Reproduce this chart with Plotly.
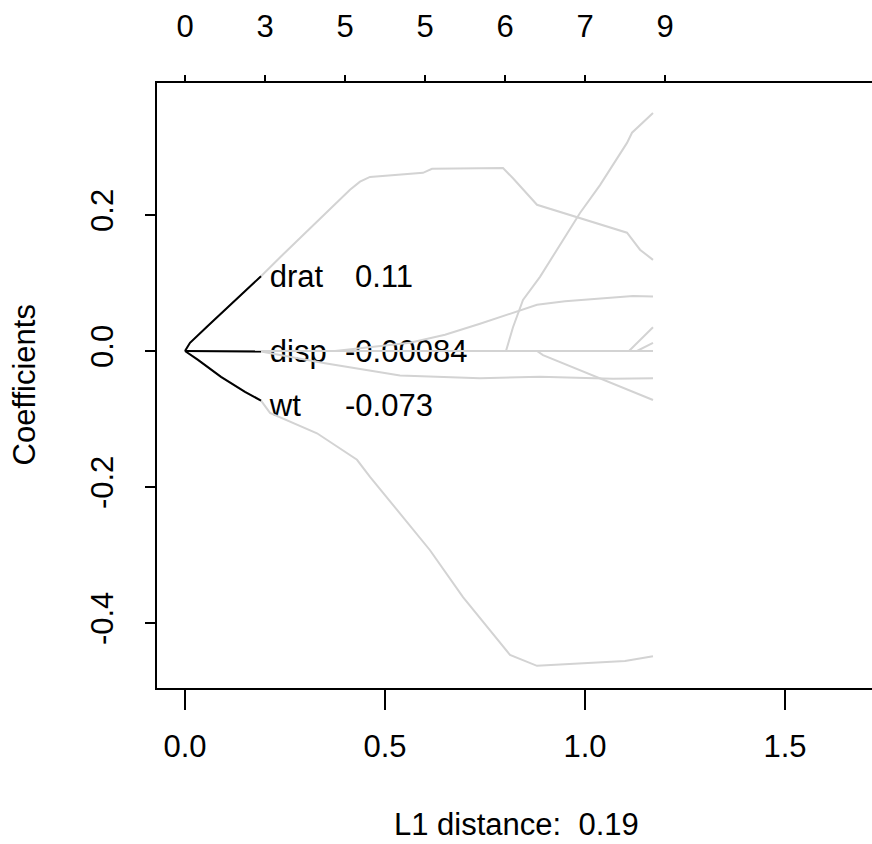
import plotly.graph_objects as go

# ---- coefficient paths (L1 norm of the coefficient vector vs. coefficient) ----
drat_l1 = [0.0, 0.0125, 0.0575, 0.1075, 0.19, 0.245, 0.33, 0.4125, 0.4375, 0.4625,
           0.595, 0.6175, 0.795, 0.82, 0.88, 1.105, 1.1375, 1.17]
drat_coef = [0.0, 0.012, 0.037, 0.064, 0.11, 0.142, 0.190, 0.237, 0.249, 0.256,
             0.262, 0.268, 0.269, 0.254, 0.215, 0.174, 0.149, 0.134]

disp_l1 = [0.0, 0.09, 0.19, 0.35, 0.5375, 0.7375, 0.8875, 1.07, 1.17]
disp_coef = [0.0, 0.0, -0.00084, -0.018, -0.036, -0.040, -0.038, -0.041, -0.040]

wt_l1 = [0.0, 0.0325, 0.09, 0.15, 0.19, 0.2125, 0.33, 0.43, 0.4625, 0.6125,
         0.695, 0.8125, 0.88, 1.1, 1.17]
wt_coef = [0.0, -0.013, -0.038, -0.060, -0.073, -0.091, -0.121, -0.160, -0.185,
           -0.293, -0.362, -0.447, -0.463, -0.456, -0.449]

steep_l1 = [0.0, 0.8025, 0.82, 0.845, 0.8875, 0.9875, 1.0375, 1.105, 1.1175, 1.17]
steep_coef = [0.0, 0.0, 0.035, 0.075, 0.109, 0.203, 0.244, 0.306, 0.321, 0.35]

rise_l1 = [0.0, 0.375, 0.5625, 0.65, 0.7375, 0.88, 0.95, 1.12, 1.17]
rise_coef = [0.0, 0.0, 0.012, 0.024, 0.040, 0.068, 0.073, 0.081, 0.080]

fall_l1 = [0.0, 0.88, 0.895, 1.0375, 1.17]
fall_coef = [0.0, 0.0, -0.006, -0.040, -0.072]

late1_l1 = [0.0, 1.11, 1.17]
late1_coef = [0.0, 0.0, 0.035]

late2_l1 = [0.0, 1.13, 1.17]
late2_coef = [0.0, 0.0, 0.012]

zero_l1 = [0.0, 1.17]
zero_coef = [0.0, 0.0]

# ---- highlighted variables at the chosen L1 distance ----
l1_cut = 0.19
hl_names = ["drat", "disp", "wt"]
hl_values = [0.11, -0.00084, -0.073]
hl_value_text = ["0.11", "-0.00084", "-0.073"]

# ---- axes ----
x_ticks = [0.0, 0.5, 1.0, 1.5]
x_tick_text = ["0.0", "0.5", "1.0", "1.5"]
y_ticks = [-0.4, -0.2, 0.0, 0.2]
y_tick_text = ["-0.4", "-0.2", "0.0", "0.2"]
df_ticks = [0.0, 0.2, 0.4, 0.6, 0.8, 1.0, 1.2]
df_counts = ["0", "3", "5", "5", "6", "7", "9"]

FONT = "Liberation Sans, Arial, sans-serif"
FS = 31
GRAY = "#D3D3D3"

all_paths = [
    (drat_l1, drat_coef), (disp_l1, disp_coef), (wt_l1, wt_coef),
    (steep_l1, steep_coef), (rise_l1, rise_coef), (fall_l1, fall_coef),
    (late1_l1, late1_coef), (late2_l1, late2_coef),
    (zero_l1, zero_coef), (zero_l1, zero_coef),
]
hl_paths = {"drat": (drat_l1, drat_coef), "disp": (disp_l1, disp_coef),
            "wt": (wt_l1, wt_coef)}

fig = go.Figure()

# labels sit underneath the gray paths; nudged slightly down from the values
label_y = [v - 0.004 - (0.007 if v < -0.01 else 0.0) for v in hl_values]
name_x = l1_cut + 0.022
fig.add_trace(go.Scatter(
    x=[name_x] * len(hl_names), y=label_y, text=hl_names, mode="text",
    textposition="middle right", textfont=dict(family=FONT, size=FS, color="black"),
    hoverinfo="skip", showlegend=False))
value_x = [l1_cut + 0.21 + (0.025 if v >= 0 else 0.0) for v in hl_values]
fig.add_trace(go.Scatter(
    x=value_x, y=label_y, text=hl_value_text, mode="text",
    textposition="middle right", textfont=dict(family=FONT, size=FS, color="black"),
    hoverinfo="skip", showlegend=False))

# every coefficient path in gray
for xs, ys in all_paths:
    fig.add_trace(go.Scatter(
        x=xs, y=ys, mode="lines", line=dict(color=GRAY, width=2),
        hoverinfo="skip", showlegend=False))

# highlighted paths up to the chosen L1 distance, in black
for name in hl_names:
    xs, ys = hl_paths[name]
    seg_x = [a for a in xs if a <= l1_cut]
    seg_y = [b for a, b in zip(xs, ys) if a <= l1_cut]
    fig.add_trace(go.Scatter(
        x=seg_x, y=seg_y, mode="lines", xaxis="x2",
        line=dict(color="black", width=2),
        hoverinfo="skip", showlegend=False))

x_range = [-0.07, 1.7175]
y_range = [-0.4956, 0.3941]

fig.update_layout(
    width=872, height=844,
    margin=dict(l=157, r=0, t=83, b=156),
    paper_bgcolor="white", plot_bgcolor="white",
    font=dict(family=FONT, size=FS, color="black"),
    xaxis=dict(range=x_range, tickvals=x_ticks, ticktext=x_tick_text,
               ticks="outside", ticklen=20, tickwidth=2, tickcolor="black",
               showline=True, linewidth=2, linecolor="black",
               showgrid=False, zeroline=False, ticklabelstandoff=10,
               tickfont=dict(family=FONT, size=FS, color="black")),
    xaxis2=dict(range=x_range, overlaying="x", side="top",
                tickvals=df_ticks, ticktext=df_counts,
                ticks="outside", ticklen=6, tickwidth=2, tickcolor="black",
                showline=True, linewidth=2, linecolor="black",
                showgrid=False, zeroline=False, ticklabelstandoff=26,
                tickfont=dict(family=FONT, size=FS, color="black")),
    yaxis=dict(range=y_range, tickvals=y_ticks, ticktext=y_tick_text,
               tickangle=-90, ticks="outside", ticklen=10, tickwidth=2,
               tickcolor="black", showline=True, linewidth=2, linecolor="black",
               showgrid=False, zeroline=False, ticklabelstandoff=20,
               tickfont=dict(family=FONT, size=FS, color="black")),
    annotations=[
        dict(text="Coefficients", xref="paper", yref="paper",
             x=(24 - 157) / 715, y=0.5, xanchor="center", yanchor="middle",
             textangle=-90, showarrow=False,
             font=dict(family=FONT, size=FS, color="black")),
        dict(text="L1 distance:\u00a0 " + str(l1_cut), xref="paper", yref="paper",
             x=(516 - 157) / 715, y=(688 - 824) / 605, xanchor="center",
             yanchor="middle", showarrow=False,
             font=dict(family=FONT, size=FS, color="black")),
    ],
)

fig.write_html("out.html")
